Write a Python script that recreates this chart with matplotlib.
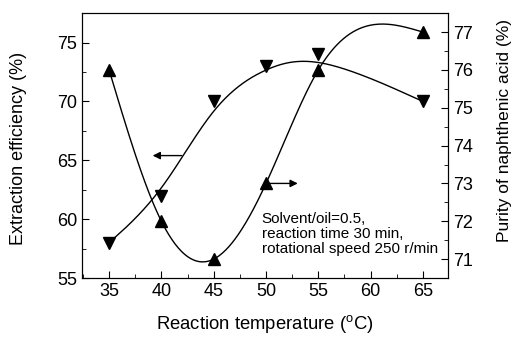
import numpy as np
import matplotlib
matplotlib.use("Agg")
import matplotlib.pyplot as plt
from matplotlib.ticker import MultipleLocator

plt.rcParams['font.family'] = ['Liberation Sans', 'DejaVu Sans']
plt.rcParams['mathtext.fontset'] = 'custom'
plt.rcParams['mathtext.rm'] = 'Liberation Sans'

# data
temperature = [35, 40, 45, 50, 55, 65]
extraction = [58, 62, 70, 73, 74, 70]        # left axis, down triangles
purity = [76, 72, 71, 73, 76, 77]            # right axis, up triangles


def natural_spline(x, y, xs):
    x = np.asarray(x, float)
    y = np.asarray(y, float)
    n = len(x)
    h = np.diff(x)
    A = np.zeros((n, n))
    b = np.zeros(n)
    A[0, 0] = A[-1, -1] = 1
    for i in range(1, n - 1):
        A[i, i - 1] = h[i - 1]
        A[i, i] = 2 * (h[i - 1] + h[i])
        A[i, i + 1] = h[i]
        b[i] = 3 * ((y[i + 1] - y[i]) / h[i] - (y[i] - y[i - 1]) / h[i - 1])
    c = np.linalg.solve(A, b)
    out = np.empty_like(xs)
    for k, xv in enumerate(xs):
        i = min(max(np.searchsorted(x, xv, side='right') - 1, 0), n - 2)
        bi = (y[i + 1] - y[i]) / h[i] - h[i] * (2 * c[i] + c[i + 1]) / 3
        di = (c[i + 1] - c[i]) / (3 * h[i])
        dx = xv - x[i]
        out[k] = y[i] + bi * dx + c[i] * dx ** 2 + di * dx ** 3
    return out


def bspline(x, y, steps=60):
    # uniform cubic B-spline, data points as control points, clamped ends
    px = np.r_[[x[0]] * 2, x, [x[-1]] * 2].astype(float)
    py = np.r_[[y[0]] * 2, y, [y[-1]] * 2].astype(float)
    t = np.linspace(0, 1, steps)
    b0 = (1 - t) ** 3 / 6
    b1 = (3 * t ** 3 - 6 * t ** 2 + 4) / 6
    b2 = (-3 * t ** 3 + 3 * t ** 2 + 3 * t + 1) / 6
    b3 = t ** 3 / 6
    cx, cy = [], []
    for i in range(len(px) - 3):
        cx.append(b0 * px[i] + b1 * px[i + 1] + b2 * px[i + 2] + b3 * px[i + 3])
        cy.append(b0 * py[i] + b1 * py[i + 1] + b2 * py[i + 2] + b3 * py[i + 3])
    return np.concatenate(cx), np.concatenate(cy)


xs = np.linspace(35, 65, 300)
ext_x, ext_y = bspline(temperature, extraction)
pur_curve = natural_spline(temperature, purity, xs)

fig = plt.figure(figsize=(5.15, 3.37), dpi=100)
ax = fig.add_axes([0.159, 0.175, 0.711, 0.786])
ax2 = ax.twinx()

ax.plot(ext_x, ext_y, color='black', lw=1)
ax.plot(temperature, extraction, 'v', color='black', ms=9, ls='none')
ax2.plot(xs, pur_curve, color='black', lw=1)
ax2.plot(temperature, purity, '^', color='black', ms=9, ls='none')

ax.set_xlim(32.4, 67.4)
ax.set_ylim(55, 77.5)
ax2.set_ylim(70.5, 77.5)

ax.xaxis.set_major_locator(MultipleLocator(5))
ax.xaxis.set_minor_locator(MultipleLocator(2.5))
ax.yaxis.set_major_locator(MultipleLocator(5))
ax.yaxis.set_minor_locator(MultipleLocator(2.5))
ax2.yaxis.set_major_locator(MultipleLocator(1))
ax2.yaxis.set_minor_locator(MultipleLocator(0.5))

ax.tick_params(axis='both', which='both', direction='in', labelsize=13, top=False)
ax.tick_params(which='major', length=5)
ax.tick_params(which='minor', length=3)
ax2.tick_params(axis='y', which='both', direction='in', labelsize=13)
ax2.tick_params(which='major', length=5)
ax2.tick_params(which='minor', length=3)

# axis titles placed where the reference has them
fig.text(265 / 515, 1 - 329 / 337, r'Reaction temperature ($^\mathrm{o}$C)',
         fontsize=13.3, ha='center', va='baseline')
fig.text(19 / 515, 1 - 148 / 337, 'Extraction efficiency (%)',
         fontsize=13, rotation=90, ha='center', va='center')
fig.text(504 / 515, 1 - 131 / 337, 'Purity of naphthenic acid (%)',
         fontsize=12.5, rotation=90, ha='center', va='center')

ax.annotate('', xy=(38.9, 65.4), xytext=(42.2, 65.4),
            arrowprops=dict(arrowstyle='-|>', color='black', lw=1, mutation_scale=11))
ax2.annotate('', xy=(53.3, 73.0), xytext=(50.0, 73.0),
             arrowprops=dict(arrowstyle='-|>', color='black', lw=1, mutation_scale=11))

ax.text(49.6, 60.6, 'Solvent/oil=0.5,\nreaction time 30 min,\nrotational speed 250 r/min',
        fontsize=11, va='top', ha='left', linespacing=1.1)

fig.savefig('out.png', dpi=100)
